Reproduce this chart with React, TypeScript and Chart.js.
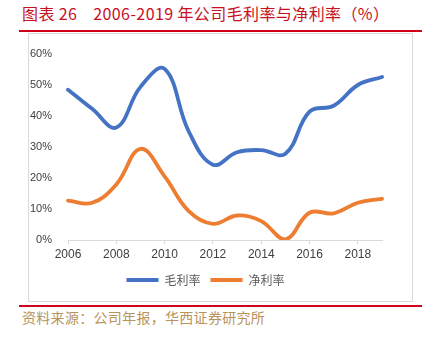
import React, { useEffect, useRef } from "react";
import { Chart, registerables } from "chart.js";

Chart.register(...registerables);

const years = ["2006","2007","2008","2009","2010","2011","2012","2013","2014","2015","2016","2017","2018","2019"];
const grossMargin = [48.5, 42.3, 36.3, 49.4, 55.2, 35.0, 24.3, 28.3, 29.0, 27.8, 41.4, 43.3, 50.0, 52.6];
const netMargin = [12.7, 12.0, 17.9, 29.4, 20.5, 9.3, 5.2, 7.9, 6.1, 0.2, 8.8, 8.6, 12.0, 13.3];
const yTicks = [0, 10, 20, 30, 40, 50, 60];

const TICK_FONT = "'Liberation Sans', Arial, sans-serif";
const CJK_FONT = "'Noto Sans CJK SC', sans-serif";

export default function App() {
  const ref = useRef<HTMLCanvasElement | null>(null);

  useEffect(() => {
    if (!ref.current) return;
    const chart = new Chart(ref.current, {
      type: "line",
      data: {
        labels: years,
        datasets: [
          {
            label: "毛利率",
            data: grossMargin,
            borderColor: "#4472C4",
            backgroundColor: "#4472C4",
            borderWidth: 3.8,
            pointRadius: 0,
            tension: 0.4,
            borderCapStyle: "round",
          },
          {
            label: "净利率",
            data: netMargin,
            borderColor: "#ED7D31",
            backgroundColor: "#ED7D31",
            borderWidth: 3.8,
            pointRadius: 0,
            tension: 0.4,
            borderCapStyle: "round",
          },
        ],
      },
      options: {
        animation: false,
        responsive: false,
        maintainAspectRatio: false,
        layout: { padding: { left: 0, right: 30, top: 20, bottom: 4 } },
        plugins: {
          tooltip: { enabled: false },
          legend: {
            position: "bottom",
            labels: {
              boxWidth: 32,
              boxHeight: 4,
              padding: 10,
              color: "#595959",
              font: { family: CJK_FONT, size: 12 },
              generateLabels: (c: any) => {
                const items = Chart.defaults.plugins.legend.labels.generateLabels(c);
                return items.map((it: any) => ({ ...it, lineWidth: 0, fillStyle: it.strokeStyle }));
              },
            },
          },
        },
        scales: {
          x: {
            type: "category",
            offset: false,
            grid: {
              display: true,
              drawOnChartArea: false,
              drawTicks: true,
              tickLength: 4,
              color: (ctx: any) => (ctx.index % 2 === 0 ? "#d9d9d9" : "rgba(0,0,0,0)"),
            },
            border: { display: true, color: "#d9d9d9", width: 1 },
            ticks: {
              autoSkip: false,
              maxRotation: 0,
              padding: 3,
              color: "#404040",
              font: { family: TICK_FONT, size: 12 },
              callback: (_v: any, i: number) => (i % 2 === 0 ? years[i] : ""),
            },
            afterFit: (s: any) => { s.height = 24; },
          },
          y: {
            min: 0,
            max: 60,
            afterBuildTicks: (s: any) => { s.ticks = yTicks.map((v) => ({ value: v })); },
            grid: { display: false },
            border: { display: false },
            ticks: {
              padding: 8,
              color: "#404040",
              font: { family: TICK_FONT, size: 11 },
              callback: (v: any) => `${v}%`,
            },
            afterFit: (s: any) => { s.width = 39; },
          },
        },
      },
    });
    return () => chart.destroy();
  }, []);

  return (
    <div style={{ position: "fixed", left: 0, top: 0, width: 432, height: 337, background: "#fff", overflow: "hidden" }}>
      <div style={{ position: "absolute", left: 22, top: 3, fontFamily: CJK_FONT, fontSize: 16, color: "#C8101E", whiteSpace: "pre", lineHeight: "20px", letterSpacing: "0.4px" }}>
        {"图表 26    2006-2019 年公司毛利率与净利率（%）"}
      </div>
      <div style={{ position: "absolute", left: 19, top: 30, width: 403, height: 2, background: "#D0021B" }} />
      <div style={{ position: "absolute", left: 28, top: 33, width: 383, height: 267, border: "1px solid #d9d9d9" }} />
      <canvas ref={ref} width={383} height={266} style={{ position: "absolute", left: 29, top: 34, width: 383, height: 266 }} />
      <div style={{ position: "absolute", left: 19, top: 305, width: 403, height: 2, background: "#D0021B" }} />
      <div style={{ position: "absolute", left: 22, top: 308, fontFamily: CJK_FONT, fontSize: 14, color: "#B8935A", whiteSpace: "pre", lineHeight: "18px", letterSpacing: "0.3px" }}>
        资料来源：公司年报，华西证券研究所
      </div>
    </div>
  );
}
